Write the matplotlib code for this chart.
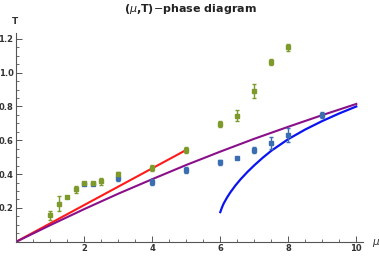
import matplotlib
matplotlib.use("Agg")
import matplotlib.pyplot as plt
import numpy as np
from matplotlib.ticker import MultipleLocator

# Lattice data (green)
mu_green = [1.0, 1.25, 1.5, 1.75, 2.0, 2.25, 2.5, 3.0, 4.0, 5.0, 6.0, 6.5, 7.0, 7.5, 8.0]
T_green = [0.157, 0.225, 0.263, 0.31, 0.347, 0.347, 0.357, 0.403, 0.438, 0.543, 0.695, 0.746, 0.892, 1.061, 1.15]
err_green = [0.027, 0.046, 0.006, 0.02, 0.008, 0.008, 0.019, 0.012, 0.018, 0.02, 0.017, 0.032, 0.044, 0.018, 0.02]

# Lattice data (blue)
mu_blue = [2.0, 2.25, 3.0, 4.0, 5.0, 6.0, 6.5, 7.0, 7.5, 8.0, 9.0]
T_blue = [0.343, 0.343, 0.377, 0.353, 0.424, 0.47, 0.497, 0.543, 0.582, 0.631, 0.75]
err_blue = [0.008, 0.008, 0.017, 0.02, 0.018, 0.015, 0.007, 0.02, 0.035, 0.041, 0.018]

# Curves
mu_red = [0.0, 5.0]
T_red = [0.0, 0.543]

mu_purple = [0.0, 1.0, 2.0, 3.0, 4.0, 5.0, 6.0, 7.0, 8.0, 9.0, 10.0]
T_purple = [0.0, 0.098, 0.193, 0.284, 0.37, 0.454, 0.533, 0.609, 0.68, 0.749, 0.815]

mu_blueline = [6.0, 6.05, 6.1, 6.2, 6.3, 6.45, 6.6, 6.8, 7.0, 7.25, 7.5, 8.0, 8.5, 9.0, 9.5, 10.0]
T_blueline = [0.175, 0.203, 0.226, 0.262, 0.293, 0.334, 0.370, 0.413, 0.452, 0.497, 0.538, 0.607, 0.664, 0.714, 0.759, 0.80]

x_ticks = [2, 4, 6, 8, 10]
y_ticks = [0.2, 0.4, 0.6, 0.8, 1.0, 1.2]

fig = plt.figure(figsize=(3.79, 2.58), dpi=100)
ax = fig.add_axes([0.043, 0.0632, 0.915, 0.809])

green = "#7d9a2a"
blue_pts = "#3a6eb0"

ax.plot(mu_red, T_red, color="#ff1a1a", lw=1.5, zorder=2)
ax.plot(mu_purple, T_purple, color="#8a0f8a", lw=1.5, zorder=2)
ax.plot(mu_blueline, T_blueline, color="#0a14f0", lw=1.6, zorder=2,
        solid_joinstyle="round")

ax.errorbar(mu_blue, T_blue, yerr=err_blue, fmt="s", ms=2.2, color=blue_pts,
            ecolor=blue_pts, elinewidth=1.0, capsize=1.6, capthick=1.0, zorder=3)
ax.errorbar(mu_green, T_green, yerr=err_green, fmt="s", ms=2.2, color=green,
            ecolor=green, elinewidth=1.0, capsize=1.6, capthick=1.0, zorder=4)

ax.set_xlim(0, 10.2)
ax.set_ylim(0, 1.235)
for s in ["top", "right"]:
    ax.spines[s].set_visible(False)
for s in ["left", "bottom"]:
    ax.spines[s].set_color("#555555")
    ax.spines[s].set_linewidth(0.8)

ax.set_xticks(x_ticks)
ax.set_xticklabels([str(v) for v in x_ticks])
ax.set_yticks(y_ticks)
ax.set_yticklabels([f"{v:.1f}" for v in y_ticks])
ax.xaxis.set_minor_locator(MultipleLocator(0.5))
ax.yaxis.set_minor_locator(MultipleLocator(0.05))
ax.tick_params(which="major", direction="in", length=4, width=0.7, color="#555555",
               labelsize=6, labelcolor="#333333", pad=2)
ax.tick_params(which="minor", direction="in", length=2, width=0.6, color="#555555")
for lab in ax.get_xticklabels() + ax.get_yticklabels():
    lab.set_fontweight("bold")

fig.text(0.503, 0.965, r"($\mu$,T)$-$phase diagram", ha="center", va="center",
         fontsize=8, fontweight="bold", color="#222222")
fig.text(0.04, 0.915, "T", ha="center", va="center", fontsize=6.5,
         fontweight="bold", color="#333333")
fig.text(0.993, 0.058, r"$\mu$", ha="center", va="center", fontsize=7.5,
         color="#333333")

fig.savefig("out.png", dpi=100)
